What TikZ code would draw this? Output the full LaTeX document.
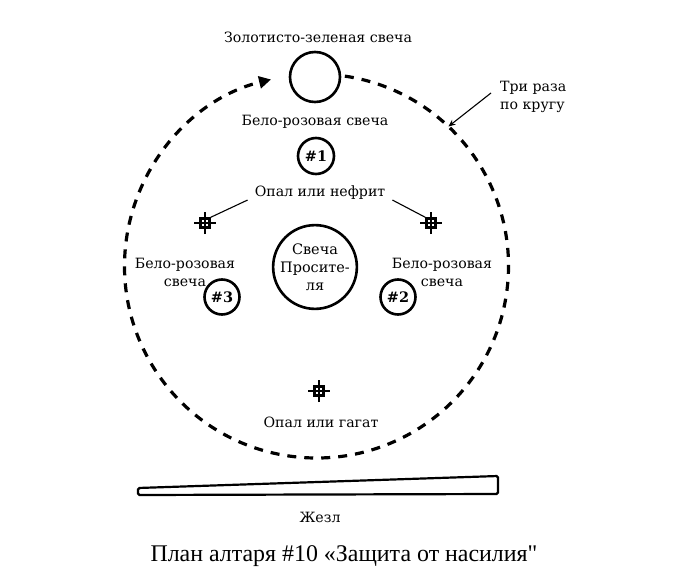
\documentclass[tikz,border=0pt]{standalone}
\usepackage{fontspec}
\setmainfont{Liberation Serif}
\newfontfamily\capfont[Ligatures=TeXOff]{Liberation Serif}
\newfontfamily\labfont{DejaVu Serif}
\usetikzlibrary{arrows.meta}
\begin{document}
\begin{tikzpicture}[x=1bp,y=-1bp,
  lab/.style={font=\labfont\fontsize{14.2}{18}\selectfont, inner sep=0pt, align=center},
  candle/.style={circle, draw, line width=2.6bp, inner sep=0pt},
  num/.style={font=\labfont\bfseries\fontsize{14.5}{16}\selectfont},
  gem/.style={rectangle, draw, line width=2.4bp, minimum size=9bp, inner sep=0pt},
  gemline/.style={line width=2.4bp},
  leader/.style={line width=1.1bp},
  ring/.style={line width=3.2bp, dash pattern=on 9bp off 8bp, -{Triangle[length=12bp,width=12bp]}},
]
\useasboundingbox (0,0) rectangle (689,581);
\coordinate (ctr) at (316.5,266);

% dashed ring with arrow
\draw[ring] ([shift={(-81.5:192)}]ctr) arc[start angle=-81.5, end angle=256.3, radius=192];

% candles
\node[candle, minimum size=50bp] (gold) at (315,77) {};
\node[candle, minimum size=36bp, num] (c1) at (316,156) {\#1};
\node[candle, minimum size=82bp, lab, font=\labfont\fontsize{14.5}{18}\selectfont] (pet) at (315,267) {Свеча\\Просите-\\ля};
\node[candle, minimum size=35bp, num] (c3) at (222,297) {\#3};
\node[candle, minimum size=35bp, num] (c2) at (398,297) {\#2};

% gems
\node[gem] (g1) at (205,223) {};
\node[gem] (g2) at (431,223) {};
\node[gem] (g3) at (319,391) {};
\foreach \n in {g1,g2,g3}
  \draw[gemline] ([xshift=-11bp]\n.center) -- ([xshift=11bp]\n.center)
                 ([yshift=-11bp]\n.center) -- ([yshift=11bp]\n.center);

% labels
\node[lab] (tgold) at (318,37) {Золотисто-зеленая свеча};
\node[lab] (t1) at (315,122) {Бело-розовая свеча};
\node[lab] (topal) at (320,193) {Опал или нефрит};
\node[lab] (t3) at (185,272) {Бело-розовая\\свеча};
\node[lab] (t2) at (442,272) {Бело-розовая\\свеча};
\node[lab] (tbot) at (321,422) {Опал или гагат};
\node[lab, anchor=west, align=left] (ttri) at (500,97) {Три раза\\по кругу};
\node[lab] (tzh) at (320,517) {Жезл};
\node[font=\capfont\fontsize{24}{28}\selectfont, inner sep=0pt] (cap) at (344,556) {План алтаря \#10 «Защита от насилия"};

% leaders
\draw[leader] ([xshift=-7bp]topal.south west) -- (g1.north east);
\draw[leader] ([xshift=7bp]topal.south east) -- (g2.north west);
\coordinate (hit) at ([shift={(-46.6:192)}]ctr);
\draw[leader, -{Stealth[length=7bp,width=6bp]}] ([xshift=-9bp,yshift=4bp]ttri.west) -- (hit);

% wand
\draw[line width=2.2bp, rounded corners=1.5bp] (138,488) -- (498,476) -- (498,494) -- (138,495) -- cycle;
\end{tikzpicture}
\end{document}
